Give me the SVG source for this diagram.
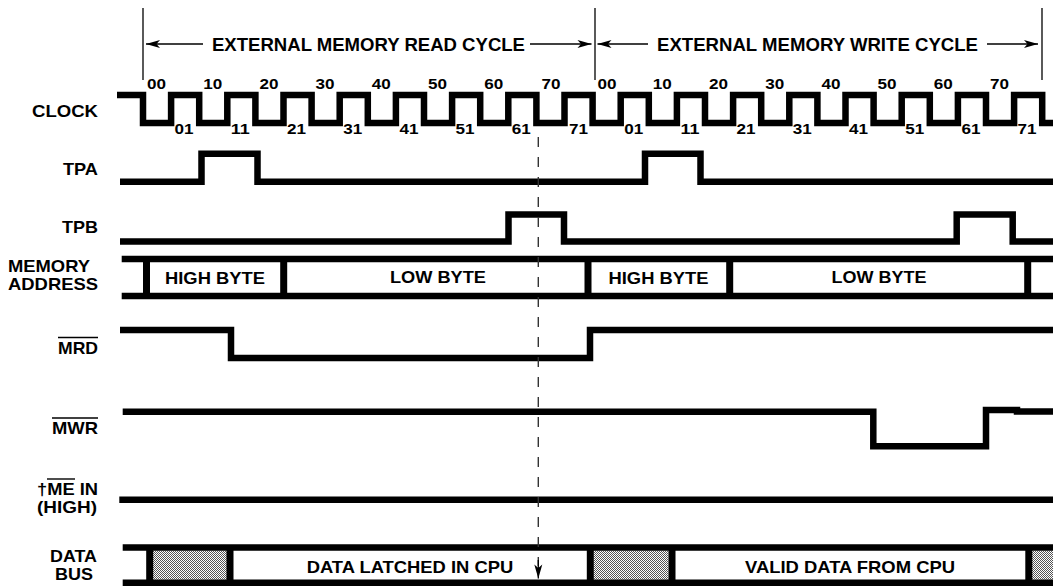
<svg xmlns="http://www.w3.org/2000/svg" width="1053" height="586" viewBox="0 0 1053 586">
<style>
.t{font-family:"Liberation Sans",Arial,sans-serif;font-weight:bold;fill:#000}
.h{font-size:17.5px}
.l{font-size:17px}
.d{font-size:15.5px}
.w{fill:none;stroke:#000;stroke-width:6.5;stroke-linejoin:miter;stroke-linecap:butt}
.bar{fill:#000}
.thin{fill:none;stroke:#000;stroke-width:1.3}
.ol{fill:none;stroke:#000;stroke-width:1.4}
.dash{fill:none;stroke:#333;stroke-width:1.4;stroke-dasharray:10 10}
</style>
<defs>
<marker id="ah" viewBox="-15 -5 16 10" refX="0" refY="0" markerWidth="16" markerHeight="10" markerUnits="userSpaceOnUse" orient="auto">
<path d="M0,0 L-14,-4 L-10.5,0 L-14,4 Z" fill="#000"/>
</marker>
<pattern id="dots" width="2" height="2" patternUnits="userSpaceOnUse">
<rect width="2" height="2" fill="#fff"/>
<rect width="1" height="1" fill="#555"/>
<rect x="1" y="1" width="1" height="1" fill="#555"/>
</pattern>
</defs>
<rect width="1053" height="586" fill="#fff"/>

<g id="header">
<line class="thin" x1="143" y1="8" x2="143" y2="80"/>
<line class="thin" x1="595" y1="8" x2="595" y2="80"/>
<line class="thin" x1="1042" y1="8" x2="1042" y2="80"/>
<line class="thin" x1="203" y1="44" x2="146" y2="44" marker-end="url(#ah)"/>
<line class="thin" x1="530" y1="44" x2="591.5" y2="44" marker-end="url(#ah)"/>
<line class="thin" x1="648" y1="44" x2="597.5" y2="44" marker-end="url(#ah)"/>
<line class="thin" x1="987" y1="44" x2="1038" y2="44" marker-end="url(#ah)"/>
<text class="t h" x="212" y="51" textLength="313" lengthAdjust="spacingAndGlyphs">EXTERNAL MEMORY READ CYCLE</text>
<text class="t h" x="657" y="51" textLength="321" lengthAdjust="spacingAndGlyphs">EXTERNAL MEMORY WRITE CYCLE</text>
</g>

<g id="labels">
<text class="t l" x="32" y="116.7" textLength="66" lengthAdjust="spacingAndGlyphs">CLOCK</text>
<text class="t l" x="63" y="175" textLength="35" lengthAdjust="spacingAndGlyphs">TPA</text>
<text class="t l" x="62" y="233" textLength="36" lengthAdjust="spacingAndGlyphs">TPB</text>
<text class="t l" x="8" y="272" textLength="82" lengthAdjust="spacingAndGlyphs">MEMORY</text>
<text class="t l" x="8" y="290" textLength="90" lengthAdjust="spacingAndGlyphs">ADDRESS</text>
<text class="t l" x="58" y="354" textLength="40" lengthAdjust="spacingAndGlyphs">MRD</text>
<line class="ol" x1="58" y1="337.5" x2="98" y2="337.5"/>
<text class="t l" x="52" y="434" textLength="46" lengthAdjust="spacingAndGlyphs">MWR</text>
<line class="ol" x1="52" y1="418" x2="98" y2="418"/>
<text class="t l" x="37" y="495" textLength="61" lengthAdjust="spacingAndGlyphs">†ME IN</text>
<line class="ol" x1="47" y1="479" x2="75" y2="479"/>
<text class="t l" x="37" y="513" textLength="60" lengthAdjust="spacingAndGlyphs">(HIGH)</text>
<text class="t l" x="50" y="562" textLength="47" lengthAdjust="spacingAndGlyphs">DATA</text>
<text class="t l" x="55" y="580" textLength="38" lengthAdjust="spacingAndGlyphs">BUS</text>
</g>

<g id="clock">
<path class="w" d="M117,95 H143 V123 H171.1 V95 H199.2 V123 H227.3 V95 H255.4 V123 H283.5 V95 H311.6 V123 H339.7 V95 H367.8 V123 H395.9 V95 H424 V123 H452.1 V95 H480.2 V123 H508.3 V95 H536.4 V123 H564.5 V95 H592.6 V123 H620.7 V95 H648.8 V123 H676.9 V95 H705 V123 H733.1 V95 H761.2 V123 H789.3 V95 H817.4 V123 H845.5 V95 H873.6 V123 H901.7 V95 H929.8 V123 H957.9 V95 H986 V123 H1014.1 V95 H1042.2 V123 H1053"/>
<g class="t d">
<text x="147" y="89" textLength="19" lengthAdjust="spacingAndGlyphs">00</text>
<text x="203.2" y="89" textLength="19" lengthAdjust="spacingAndGlyphs">10</text>
<text x="259.4" y="89" textLength="19" lengthAdjust="spacingAndGlyphs">20</text>
<text x="315.6" y="89" textLength="19" lengthAdjust="spacingAndGlyphs">30</text>
<text x="371.8" y="89" textLength="19" lengthAdjust="spacingAndGlyphs">40</text>
<text x="428" y="89" textLength="19" lengthAdjust="spacingAndGlyphs">50</text>
<text x="484.2" y="89" textLength="19" lengthAdjust="spacingAndGlyphs">60</text>
<text x="541.4" y="89" textLength="19" lengthAdjust="spacingAndGlyphs">70</text>
<text x="597.6" y="89" textLength="19" lengthAdjust="spacingAndGlyphs">00</text>
<text x="652.8" y="89" textLength="19" lengthAdjust="spacingAndGlyphs">10</text>
<text x="709" y="89" textLength="19" lengthAdjust="spacingAndGlyphs">20</text>
<text x="765.2" y="89" textLength="19" lengthAdjust="spacingAndGlyphs">30</text>
<text x="821.4" y="89" textLength="19" lengthAdjust="spacingAndGlyphs">40</text>
<text x="877.6" y="89" textLength="19" lengthAdjust="spacingAndGlyphs">50</text>
<text x="933.8" y="89" textLength="19" lengthAdjust="spacingAndGlyphs">60</text>
<text x="990" y="89" textLength="19" lengthAdjust="spacingAndGlyphs">70</text>
<text x="174.6" y="134" textLength="19" lengthAdjust="spacingAndGlyphs">01</text>
<text x="230.8" y="134" textLength="19" lengthAdjust="spacingAndGlyphs">11</text>
<text x="287" y="134" textLength="19" lengthAdjust="spacingAndGlyphs">21</text>
<text x="343.2" y="134" textLength="19" lengthAdjust="spacingAndGlyphs">31</text>
<text x="399.4" y="134" textLength="19" lengthAdjust="spacingAndGlyphs">41</text>
<text x="455.6" y="134" textLength="19" lengthAdjust="spacingAndGlyphs">51</text>
<text x="511.8" y="134" textLength="19" lengthAdjust="spacingAndGlyphs">61</text>
<text x="569" y="134" textLength="19" lengthAdjust="spacingAndGlyphs">71</text>
<text x="624.2" y="134" textLength="19" lengthAdjust="spacingAndGlyphs">01</text>
<text x="680.4" y="134" textLength="19" lengthAdjust="spacingAndGlyphs">11</text>
<text x="736.6" y="134" textLength="19" lengthAdjust="spacingAndGlyphs">21</text>
<text x="792.8" y="134" textLength="19" lengthAdjust="spacingAndGlyphs">31</text>
<text x="849" y="134" textLength="19" lengthAdjust="spacingAndGlyphs">41</text>
<text x="905.2" y="134" textLength="19" lengthAdjust="spacingAndGlyphs">51</text>
<text x="961.4" y="134" textLength="19" lengthAdjust="spacingAndGlyphs">61</text>
<text x="1017.6" y="134" textLength="19" lengthAdjust="spacingAndGlyphs">71</text>
</g>
</g>

<g id="tpa">
<path class="w" d="M120,181.7 H201.5 V153.7 H257.5 V181.7 H645 V153.7 H700.5 V181.7 H1053"/>
</g>

<g id="tpb">
<path class="w" d="M120,241.5 H508.5 V214.5 H564 V241.5 H956.7 V214.5 H1012.7 V241.5 H1053"/>
</g>

<g id="memory-address">
<path class="w" d="M121.7,259 H1053 M121.7,296 H1053"/>
<rect class="bar" x="143" y="259" width="7" height="37"/>
<rect class="bar" x="280.2" y="259" width="7" height="37"/>
<rect class="bar" x="584.5" y="259" width="7" height="37"/>
<rect class="bar" x="726.2" y="259" width="7" height="37"/>
<rect class="bar" x="1024.2" y="259" width="7" height="37"/>
<text class="t l" x="165" y="283.5" textLength="100" lengthAdjust="spacingAndGlyphs">HIGH BYTE</text>
<text class="t l" x="390" y="283" textLength="96" lengthAdjust="spacingAndGlyphs">LOW BYTE</text>
<text class="t l" x="608.5" y="283.5" textLength="100" lengthAdjust="spacingAndGlyphs">HIGH BYTE</text>
<text class="t l" x="831.5" y="283" textLength="95" lengthAdjust="spacingAndGlyphs">LOW BYTE</text>
</g>

<g id="mrd">
<path class="w" d="M120,330 H231 V358 H590 V330 H1053"/>
</g>

<g id="mwr">
<path class="w" d="M122.7,411.7 H873.3 V446.3 H986 V410 H1017 V411.5 H1053"/>
</g>

<g id="me-in">
<path class="w" d="M119.3,499.7 H1053"/>
</g>

<g id="data-bus">
<rect x="153" y="550.5" width="74" height="29.2" fill="url(#dots)"/>
<rect x="593.5" y="550.5" width="75" height="29.2" fill="url(#dots)"/>
<rect x="1032" y="550.5" width="21" height="29.2" fill="url(#dots)"/>
<path class="w" d="M122.7,547.5 H1053 M122.7,582.7 H1053"/>
<rect class="bar" x="146.2" y="547.5" width="7" height="35.2"/>
<rect class="bar" x="226.5" y="547.5" width="7" height="35.2"/>
<rect class="bar" x="586.8" y="547.5" width="7" height="35.2"/>
<rect class="bar" x="668.5" y="547.5" width="7" height="35.2"/>
<rect class="bar" x="1025.3" y="547.5" width="7" height="35.2"/>
<text class="t l" x="306.7" y="572.7" textLength="206.6" lengthAdjust="spacingAndGlyphs">DATA LATCHED IN CPU</text>
<text class="t l" x="745" y="572.7" textLength="210" lengthAdjust="spacingAndGlyphs">VALID DATA FROM CPU</text>
</g>

<g id="connectors">
<line class="dash" x1="538.3" y1="137" x2="538.3" y2="566"/>
<line class="thin" x1="538.3" y1="560" x2="538.3" y2="578.5" marker-end="url(#ah)"/>
</g>
</svg>
